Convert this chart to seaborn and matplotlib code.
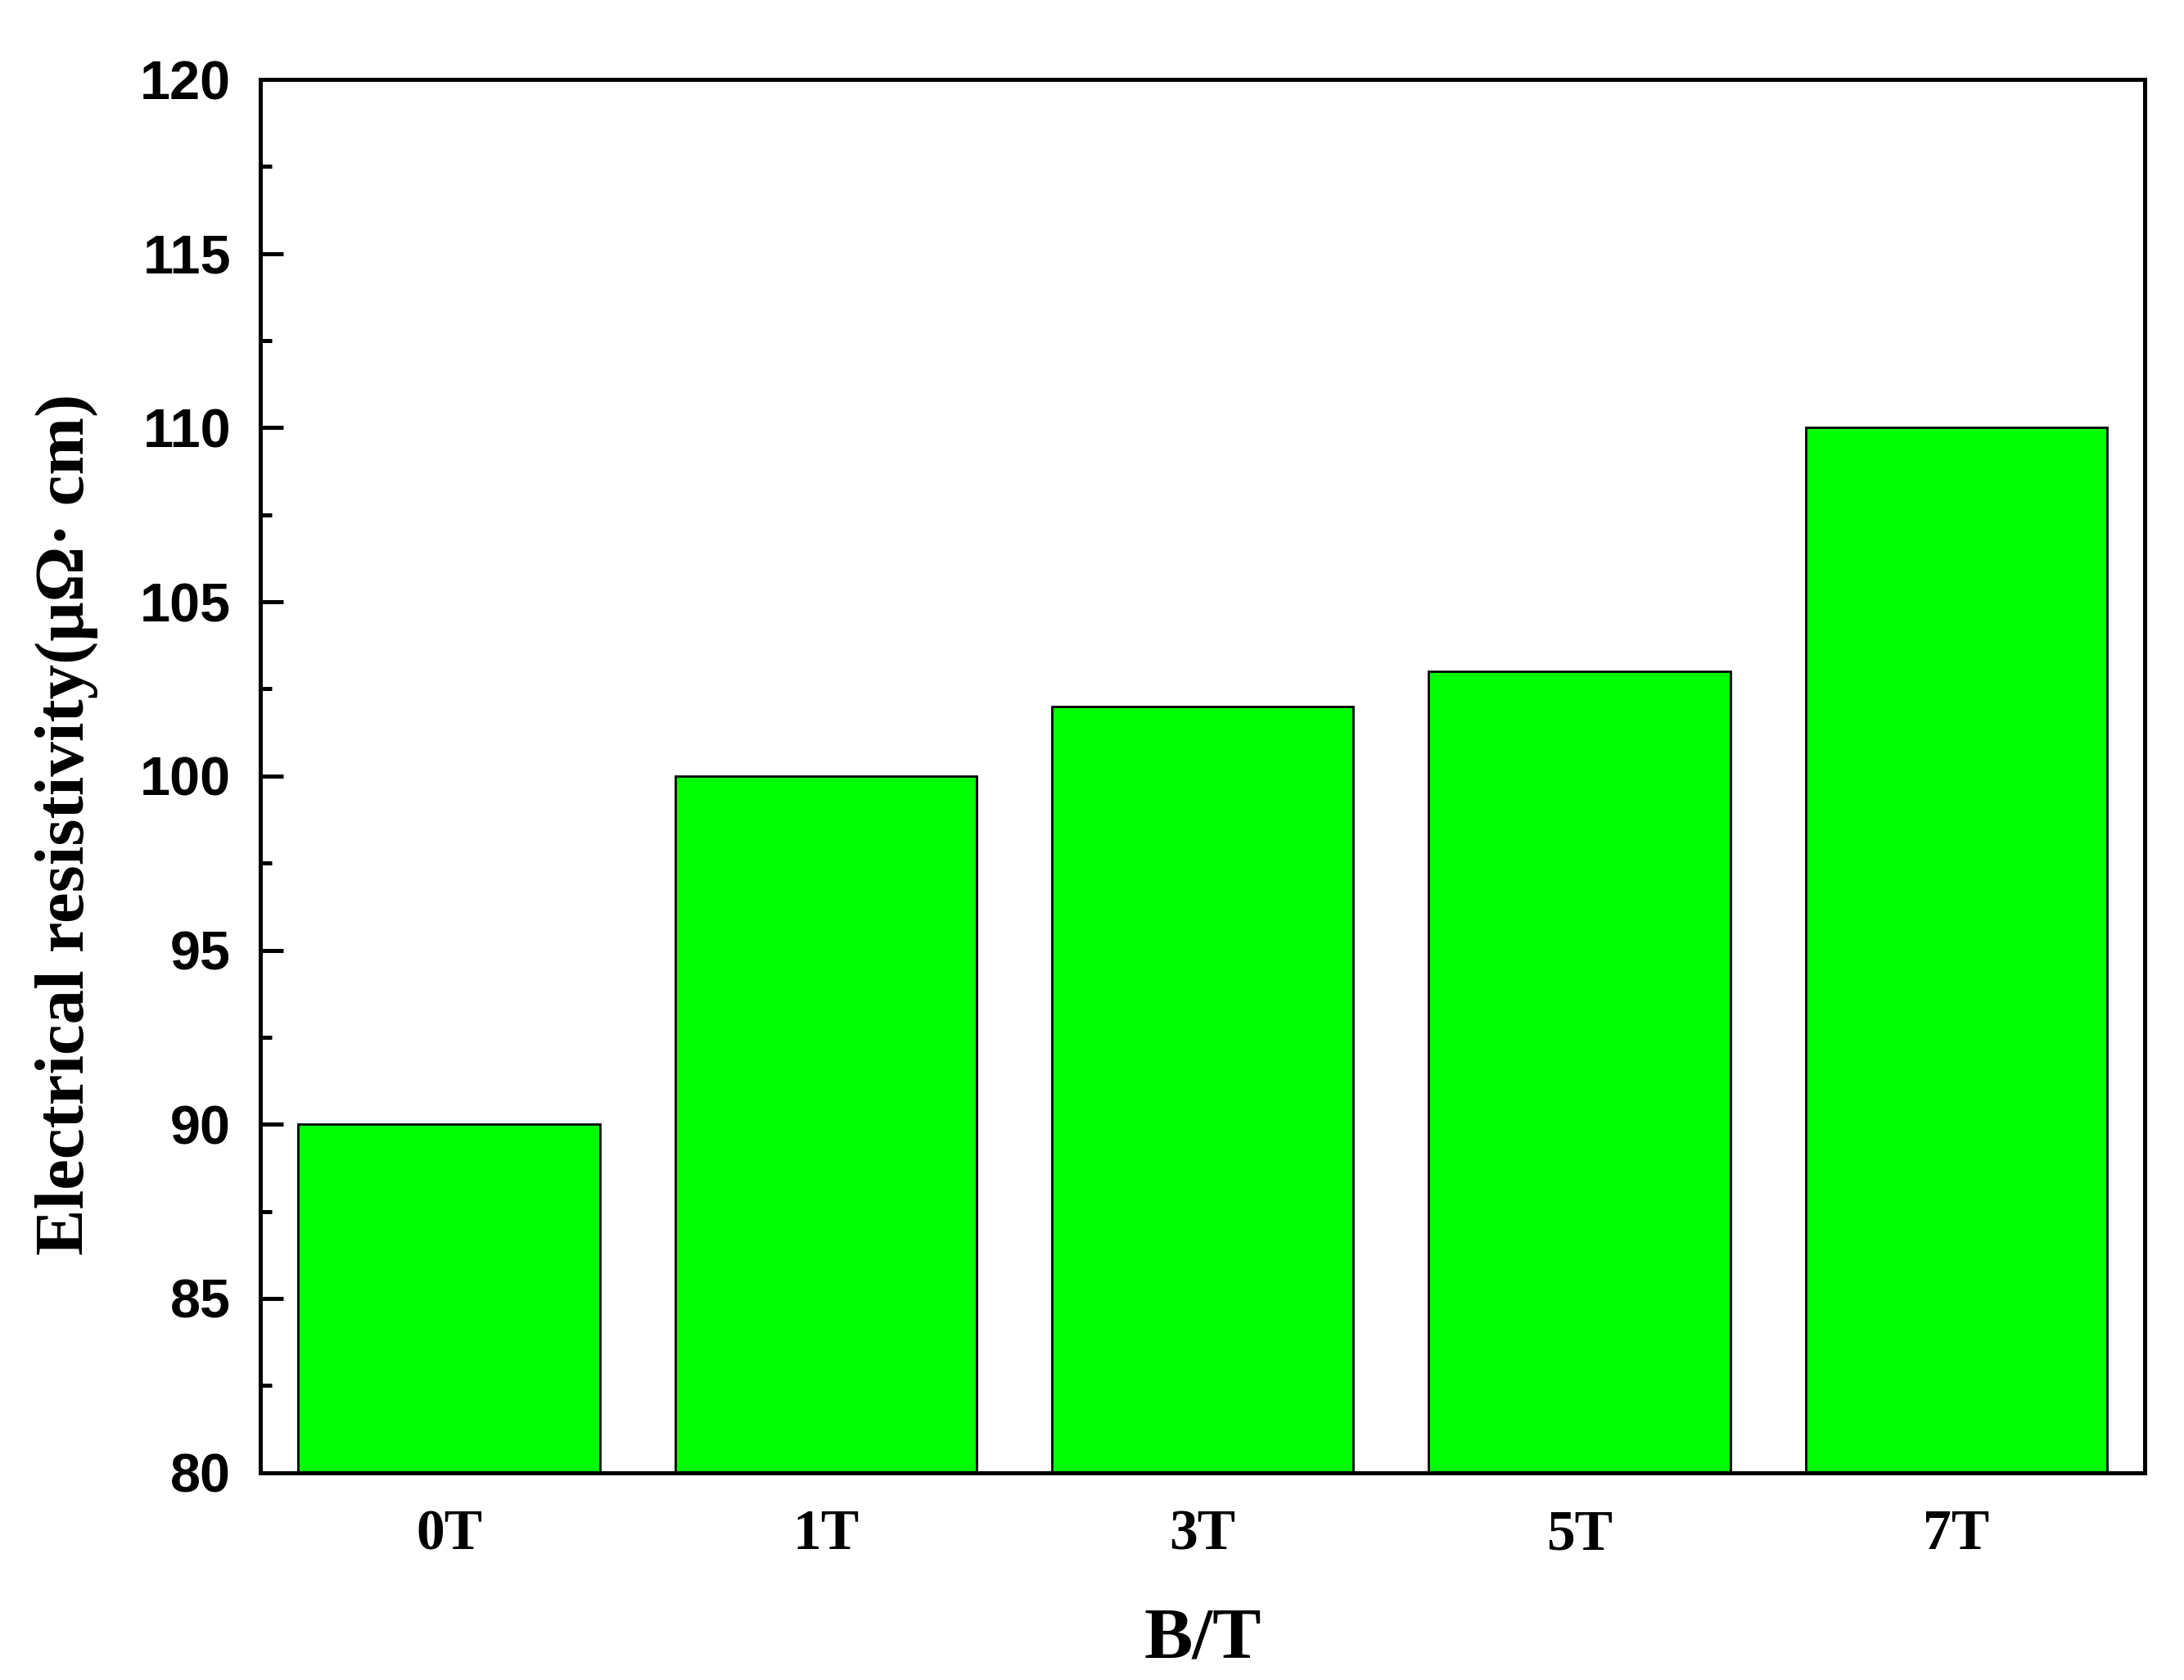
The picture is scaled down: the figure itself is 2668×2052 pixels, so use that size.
import pandas as pd
import matplotlib
matplotlib.use("Agg")
import matplotlib.pyplot as plt
from matplotlib.ticker import MultipleLocator
import seaborn as sns

# field strength categories and measured resistivity
fields = ["0T", "1T", "3T", "5T", "7T"]
resistivity = [90, 100, 102, 103, 110]
y_ticks = [80, 85, 90, 95, 100, 105, 110, 115, 120]

BAR_GREEN = "#00FF00"
SERIF = ["Liberation Serif", "DejaVu Serif"]
SANS = ["Liberation Sans Narrow", "Liberation Sans", "DejaVu Sans"]

sns.set_style("ticks")
plt.rcParams["font.family"] = SERIF
plt.rcParams["text.color"] = "black"
plt.rcParams["axes.labelcolor"] = "black"
plt.rcParams["xtick.color"] = "black"
plt.rcParams["ytick.color"] = "black"

df = pd.DataFrame({"field": fields, "rho": resistivity})

fig = plt.figure(figsize=(13.34, 10.26), dpi=200)
ax = fig.add_axes([0.1193, 0.1235, 0.8627, 0.8292])

sns.barplot(
    data=df,
    x="field",
    y="rho",
    color=BAR_GREEN,
    saturation=1,
    width=0.8,
    edgecolor="black",
    linewidth=1.0,
    ax=ax,
)

ax.set_xlim(-0.5, len(fields) - 0.5)
ax.set_ylim(80, 120)
ax.set_yticks(y_ticks)
ax.yaxis.set_minor_locator(MultipleLocator(2.5))

for side in ["left", "right", "top", "bottom"]:
    ax.spines[side].set_visible(True)
    ax.spines[side].set_linewidth(1.8)
    ax.spines[side].set_color("black")

ax.tick_params(axis="y", which="major", direction="in", length=10, width=1.8, pad=13)
ax.tick_params(axis="y", which="minor", direction="in", length=5, width=1.8)
ax.tick_params(axis="x", which="both", length=0, pad=16)

for lbl in ax.get_yticklabels():
    lbl.set_family(SANS)
    lbl.set_fontweight("bold")
    lbl.set_fontsize(24)
for lbl in ax.get_xticklabels():
    lbl.set_family(SERIF)
    lbl.set_fontweight("bold")
    lbl.set_fontsize(25)

ax.set_xlabel("B/T", fontsize=32, fontweight="bold", labelpad=20)
ax.set_ylabel("Electrical resistivity(μΩ· cm)", fontsize=30.5, fontweight="bold")
ax.yaxis.set_label_coords(-0.086, 0.465)

fig.savefig("out.png", dpi=200, facecolor="white")
